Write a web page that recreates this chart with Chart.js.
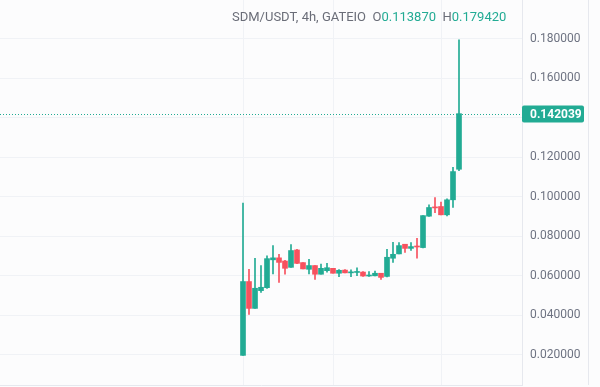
<!DOCTYPE html>
<html lang="en">
<head>
    <meta charset="UTF-8">
    <title>SDM/USDT 4h</title>
    <script src="https://cdn.jsdelivr.net/npm/chart.js"></script>
    <style>
        html, body { margin: 0; padding: 0; background: #fcfcfd; }
        #wrap { position: relative; width: 600px; height: 387px; }
        #legend {
            position: absolute; left: 232px; top: 9px;
            font: 13px Roboto, "Noto Sans", sans-serif; color: #6a6d78;
            white-space: pre;
        }
        #legend .v { color: #22ab94; }
    </style>
</head>
<body>
<div id="wrap">
    <canvas id="candleChart" width="600" height="387"></canvas>
    <div id="legend">SDM/USDT, 4h, GATEIO  O<span class="v">0.113870</span>  H<span class="v">0.179420</span></div>
</div>
<script>
// 4h candles, index 0 = first candle
const opens  = [0.0196, 0.0570, 0.0434, 0.0524, 0.0539, 0.0680, 0.0690, 0.0674, 0.0642, 0.0730,
                0.0666, 0.0632, 0.0651, 0.0607, 0.0625, 0.0637, 0.0612, 0.0628, 0.0614, 0.0616,
                0.0618, 0.0598, 0.0599, 0.0612, 0.0596, 0.0688, 0.0710, 0.0759, 0.0738, 0.0747,
                0.0742, 0.0901, 0.0945, 0.0950, 0.0908, 0.0984, 0.113870];
const highs  = [0.0967, 0.0632, 0.0688, 0.0651, 0.0700, 0.0752, 0.0708, 0.0678, 0.0757, 0.0733,
                0.0666, 0.0683, 0.0651, 0.0659, 0.0662, 0.0637, 0.0630, 0.0631, 0.0629, 0.0640,
                0.0620, 0.0620, 0.0623, 0.0612, 0.0733, 0.0769, 0.0767, 0.0759, 0.0767, 0.0789,
                0.0904, 0.0958, 0.0995, 0.0972, 0.0989, 0.1148, 0.179420];
const lows   = [0.0196, 0.0404, 0.0434, 0.0515, 0.0535, 0.0609, 0.0566, 0.0607, 0.0642, 0.0660,
                0.0634, 0.0609, 0.0581, 0.0607, 0.0617, 0.0612, 0.0595, 0.0614, 0.0595, 0.0600,
                0.0596, 0.0596, 0.0599, 0.0581, 0.0594, 0.0667, 0.0710, 0.0718, 0.0728, 0.0688,
                0.0740, 0.0900, 0.0919, 0.0908, 0.0903, 0.0946, 0.1131];
const closes = [0.0570, 0.0434, 0.0536, 0.0541, 0.0686, 0.0690, 0.0667, 0.0637, 0.0727, 0.0662,
                0.0634, 0.0651, 0.0607, 0.0637, 0.0640, 0.0612, 0.0627, 0.0614, 0.0616, 0.0620,
                0.0598, 0.0600, 0.0612, 0.0591, 0.0693, 0.0708, 0.0752, 0.0738, 0.0747, 0.0745,
                0.0904, 0.0945, 0.0943, 0.0908, 0.0984, 0.1127, 0.142039];
const yTicks = [0.02, 0.04, 0.06, 0.08, 0.10, 0.12, 0.14, 0.16, 0.18];
const timeGrid = [0, 15, 33];
const lastPrice = 0.142039;

const UP = '#22ab94';
const DOWN = '#f7525f';

const colorOf = i => closes[i] >= opens[i] ? UP : DOWN;
const wicks = opens.map((o, i) => ({ x: i, y: [lows[i], highs[i]] }));
const bodies = opens.map((o, i) => ({ x: i, y: [o, closes[i]] }));

const frame = {
    id: 'frame',
    afterDraw(chart) {
        const c = chart.ctx;
        const a = chart.chartArea;
        const ys = chart.scales.y;
        const y = Math.round(ys.getPixelForValue(lastPrice)) + 0.5;
        c.save();
        // price line
        c.strokeStyle = UP;
        c.lineWidth = 1;
        c.setLineDash([1, 2]);
        c.beginPath();
        c.moveTo(a.left, y);
        c.lineTo(a.right, y);
        c.stroke();
        c.setLineDash([]);
        // right border of price scale
        c.strokeStyle = '#e6e8ee';
        c.beginPath();
        c.moveTo(ys.right + 0.5, 0);
        c.lineTo(ys.right + 0.5, a.bottom);
        c.stroke();
        // price tag
        c.fillStyle = UP;
        c.beginPath();
        c.roundRect(a.right, y - 9, 62, 17, 2);
        c.fill();
        c.fillStyle = '#ffffff';
        c.font = 'bold 12px Roboto, sans-serif';
        c.textBaseline = 'middle';
        c.fillText(lastPrice.toFixed(6), a.right + 8, y);
        c.restore();
    }
};

new Chart(document.getElementById('candleChart'), {
    type: 'bar',
    data: {
        datasets: [
            {
                data: wicks,
                barThickness: 1,
                backgroundColor: ctx => colorOf(ctx.dataIndex),
                grouped: false,
                minBarLength: 1
            },
            {
                data: bodies,
                barThickness: 5,
                backgroundColor: ctx => colorOf(ctx.dataIndex),
                grouped: false,
                minBarLength: 1
            }
        ]
    },
    options: {
        responsive: false,
        animation: false,
        layout: { autoPadding: false, padding: { top: 0, left: 0, right: 12, bottom: 2 } },
        plugins: { legend: { display: false }, tooltip: { enabled: false } },
        scales: {
            x: {
                type: 'linear',
                offset: false,
                min: -40.5,
                max: 46.5,
                afterBuildTicks: s => { s.ticks = timeGrid.map(v => ({ value: v })); },
                afterFit: s => { s.height = 0; },
                ticks: { display: false },
                grid: { color: '#f0f2f6', drawTicks: false, offset: false },
                border: { color: '#e6e8ee' }
            },
            y: {
                position: 'right',
                min: 0.0046,
                max: 0.1996,
                afterBuildTicks: s => { s.ticks = yTicks.map(v => ({ value: v })); },
                afterFit: s => { s.width = 66; s.paddingTop = 0; s.paddingBottom = 0; },
                ticks: {
                    padding: 8,
                    color: '#6e7382',
                    font: { family: 'Roboto', size: 12 },
                    callback: v => v.toFixed(6)
                },
                grid: { color: '#f0f2f6', drawTicks: false },
                border: { color: '#e6e8ee' }
            }
        }
    },
    plugins: [frame]
});
</script>
</body>
</html>
